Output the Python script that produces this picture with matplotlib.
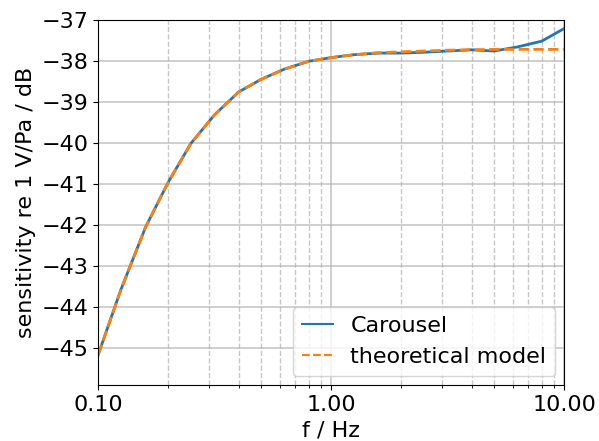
import matplotlib
matplotlib.use("Agg")
import matplotlib.pyplot as plt
import matplotlib.ticker as ticker
import numpy as np

# third-octave frequencies
freqs = [0.1, 0.125, 0.16, 0.2, 0.25, 0.315, 0.4, 0.5, 0.63, 0.8, 1.0,
         1.25, 1.6, 2.0, 2.5, 3.15, 4.0, 5.0, 6.3, 8.0, 10.0]

# measured sensitivity (carousel)
carousel = [-45.16, -43.58, -42.04, -40.95, -40.01, -39.32, -38.76, -38.45,
            -38.20, -38.01, -37.92, -37.85, -37.81, -37.81, -37.79, -37.76,
            -37.73, -37.76, -37.66, -37.52, -37.21]

# theoretical model
model = [-45.16, -43.58, -42.04, -40.95, -40.01, -39.32, -38.76, -38.45,
         -38.20, -38.01, -37.92, -37.85, -37.80, -37.78, -37.76, -37.74,
         -37.73, -37.72, -37.72, -37.72, -37.72]

plt.rcParams['font.size'] = 16

fig, ax = plt.subplots(figsize=(5.99, 4.41), dpi=100)
fig.subplots_adjust(left=0.164, right=0.942, top=0.955, bottom=0.127)

ax.plot(freqs, carousel, color='tab:blue', lw=2, label='Carousel')
ax.plot(freqs, model, color='tab:orange', lw=2, ls='--', label='theoretical model')

ax.set_xscale('log')
ax.set_xlim(0.1, 10)
ax.set_ylim(-45.9, -37)
ax.xaxis.set_major_formatter(ticker.FormatStrFormatter('%.2f'))
ax.xaxis.set_minor_formatter(ticker.NullFormatter())
ax.yaxis.set_major_locator(ticker.MultipleLocator(1))

ax.grid(which='major', color='#b0b0b0', lw=1.2, alpha=0.7)
ax.grid(which='minor', axis='x', color='#b0b0b0', ls='--', lw=1.0, alpha=0.7)

ax.set_xlabel('f / Hz')
ax.set_ylabel('sensitivity re 1 V/Pa / dB')
leg = ax.legend(loc='lower right', handlelength=1.4, borderaxespad=0.4)
for line in leg.get_lines():
    line.set_linewidth(1.5)

fig.savefig('out.png', dpi=100)
